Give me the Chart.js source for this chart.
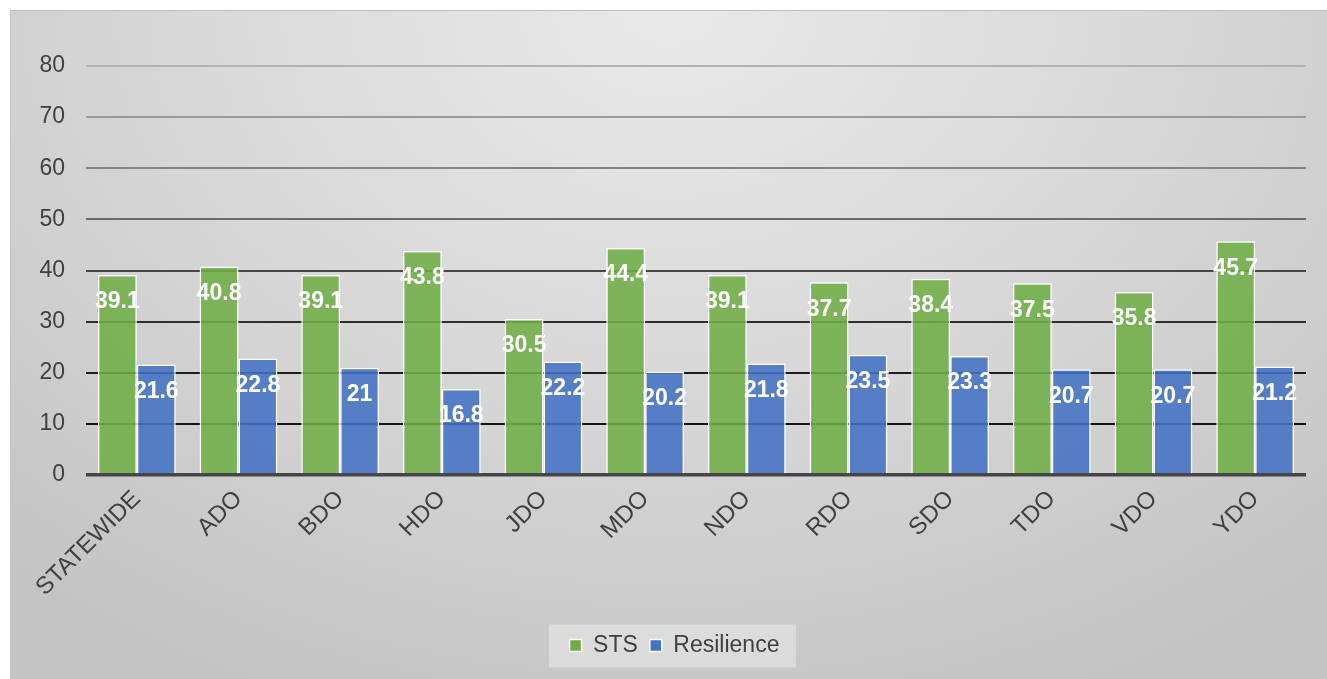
<!DOCTYPE html>
<html>
<head>
<meta charset="utf-8">
<script src="https://cdn.jsdelivr.net/npm/chart.js@4.4.0/dist/chart.umd.min.js"></script>
<style>
  html, body { margin: 0; padding: 0; background: #ffffff; }
  #wrap {
    position: absolute; left: 10px; top: 10px; width: 1317px; height: 669px;
    border-top: 1px solid #bdbdbd; border-left: 1px solid #c4c4c4;
    box-sizing: border-box;
    background: radial-gradient(ellipse 75% 110% at 50% 0%, #eaeaea 0%, #d6d6d6 55%, #c4c4c4 100%);
  }
  canvas { display: block; }
</style>
</head>
<body>
<div id="wrap"><canvas id="c" width="1316" height="668"></canvas></div>
<script>
const categories = ["STATEWIDE", "ADO", "BDO", "HDO", "JDO", "MDO", "NDO", "RDO", "SDO", "TDO", "VDO", "YDO"];
const stsValues = [39.1, 40.8, 39.1, 43.8, 30.5, 44.4, 39.1, 37.7, 38.4, 37.5, 35.8, 45.7];
const resilienceValues = [21.6, 22.8, 21, 16.8, 22.2, 20.2, 21.8, 23.5, 23.3, 20.7, 20.7, 21.2];
const seriesNames = ["STS", "Resilience"];
const yTicks = [0, 10, 20, 30, 40, 50, 60, 70, 80];

const FONT = "'Liberation Sans', Arial, sans-serif";
const gridColors = ["#454545", "#141414", "#1e1e1e", "#2e2e2e", "#474747", "#6a6a6a", "#838383", "#9a9a9a", "#b3b3b3"];
const gridWidths = [3.5, 2, 2, 2, 2, 2, 2, 2, 2];

const dataLabels = {
  id: 'dataLabels',
  afterDatasetsDraw(chart) {
    const ctx = chart.ctx;
    ctx.save();
    ctx.font = "bold 23px " + FONT;
    ctx.fillStyle = "#ffffff";
    ctx.textAlign = "center";
    ctx.textBaseline = "middle";
    chart.data.datasets.forEach((ds, i) => {
      const meta = chart.getDatasetMeta(i);
      meta.data.forEach((bar, j) => {
        ctx.fillText(String(ds.data[j]), bar.x, bar.y + 27);
      });
    });
    ctx.restore();
  }
};

const legendShift = {
  id: 'legendShift',
  afterLayout(chart) {
    const lg = chart.legend;
    if (lg) { lg.left += 16; lg.right += 16; }
  }
};

const legendBg = {
  id: 'legendBg',
  beforeDraw(chart) {
    const lg = chart.legend;
    if (!lg || !lg.legendHitBoxes || !lg.legendHitBoxes.length) return;
    const hb = lg.legendHitBoxes;
    const cx = (lg.left + lg.right) / 2;
    const cy = hb[0].top + hb[0].height / 2;
    const w = 247;
    const ctx = chart.ctx;
    ctx.save();
    ctx.fillStyle = "rgba(232,232,232,0.6)";
    ctx.fillRect(cx - w / 2 - 2, cy - 21, w, 43);
    ctx.restore();
  }
};

new Chart(document.getElementById('c'), {
  type: 'bar',
  data: {
    labels: categories,
    datasets: [
      {
        label: seriesNames[0],
        data: stsValues,
        backgroundColor: "rgba(112,173,71,0.88)",
        borderColor: "#ffffff",
        borderWidth: 1.5,
        categoryPercentage: 0.765,
        barPercentage: 1.0
      },
      {
        label: seriesNames[1],
        data: resilienceValues,
        backgroundColor: "rgba(68,114,196,0.88)",
        borderColor: "#ffffff",
        borderWidth: 1.5,
        categoryPercentage: 0.765,
        barPercentage: 1.0
      }
    ]
  },
  options: {
    responsive: false,
    animation: false,
    layout: { padding: { top: 55, right: 21, left: 0, bottom: 12 } },
    plugins: {
      legend: {
        position: 'bottom',
        labels: {
          font: { family: FONT, size: 23 },
          color: "#404040",
          boxWidth: 12,
          boxHeight: 12,
          padding: 12,
          generateLabels(chart) {
            return chart.data.datasets.map((ds, i) => ({
              text: ds.label,
              fillStyle: i === 0 ? "#70ad47" : "#4472c4",
              strokeStyle: "#ffffff",
              lineWidth: 1.5,
              datasetIndex: i,
              fontColor: "#404040"
            }));
          }
        }
      },
      tooltip: { enabled: false }
    },
    scales: {
      x: {
        grid: { display: false, drawTicks: false },
        border: { display: false },
        ticks: {
          font: { family: FONT, size: 24 },
          color: "#404040",
          minRotation: 45,
          maxRotation: 45,
          padding: 10,
          autoSkip: false
        },
        afterFit(scale) { scale.height = 147; }
      },
      y: {
        min: 0,
        max: 80,
        afterBuildTicks(scale) { scale.ticks = yTicks.map(v => ({ value: v })); },
        grid: {
          drawTicks: false,
          color: ctx => gridColors[ctx.index] || "#888",
          lineWidth: ctx => gridWidths[ctx.index] || 2
        },
        border: { display: false },
        ticks: {
          font: { family: FONT, size: 23 },
          color: "#404040",
          padding: 21
        },
        afterFit(scale) { scale.width = 75; }
      }
    }
  },
  plugins: [legendShift, legendBg, dataLabels]
});
</script>
</body>
</html>
